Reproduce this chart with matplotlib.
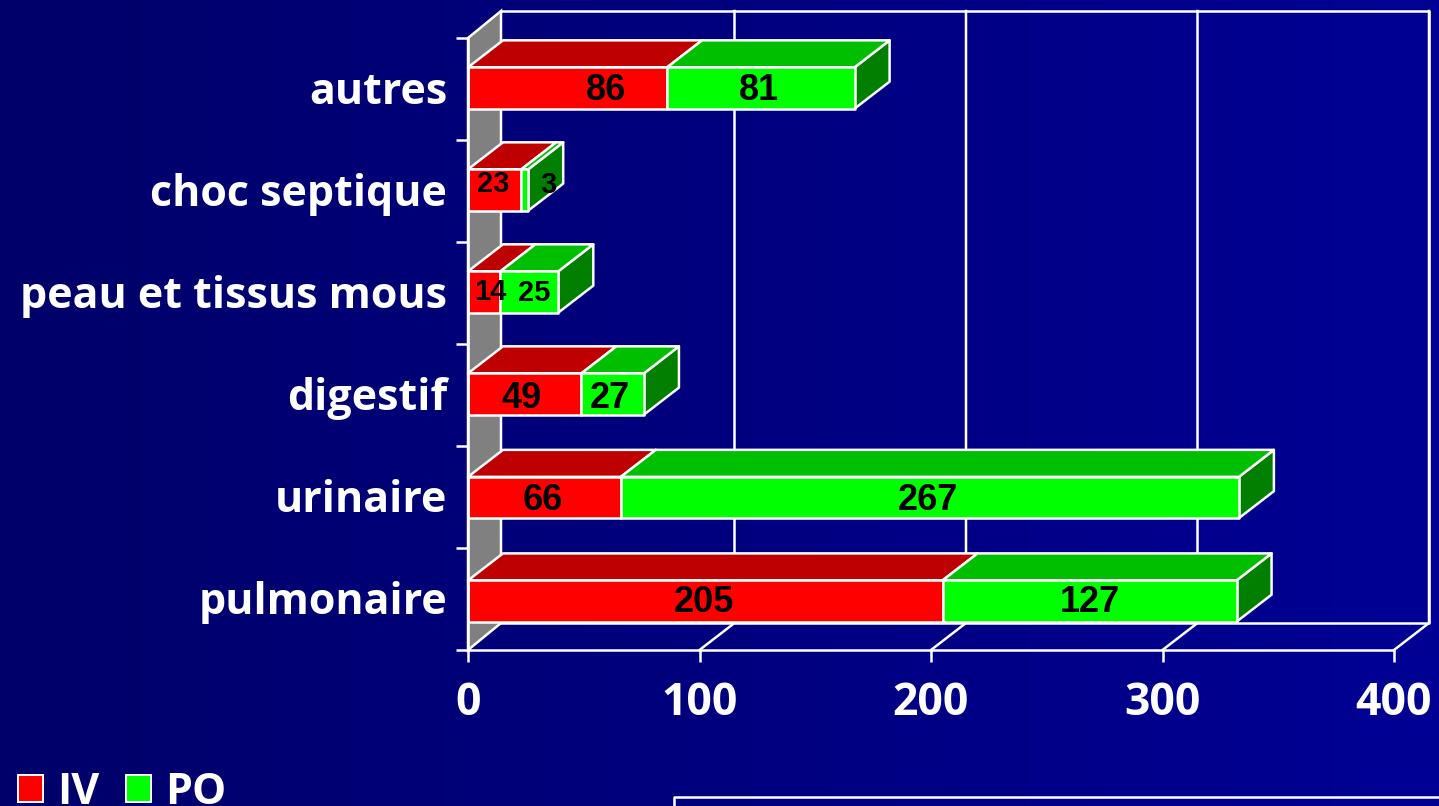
import numpy as np
from matplotlib import pyplot as plt
from matplotlib.colors import LinearSegmentedColormap
from matplotlib.patches import Polygon, Patch
from matplotlib.transforms import ScaledTranslation

categories = ['pulmonaire', 'urinaire', 'digestif', 'peau et tissus mous', 'choc septique', 'autres']
iv_values = [205, 66, 49, 14, 23, 86]
po_values = [127, 267, 27, 25, 3, 81]
x_ticks = [0, 100, 200, 300, 400]

W, H = 1439, 806
RED, RED_TOP = '#ff0000', '#bf0000'
GREEN, GREEN_TOP, GREEN_SIDE = '#00ff00', '#00bf00', '#007f00'
LABEL_FONT = 'Open Sans'
VALUE_FONT = 'Liberation Sans'
LW = 1.8

# depth of the fake 3d effect, in data units
DX = 35 / (926 / 400)
WALL_DX = 33 / (926 / 400)
DY = 27 / 102
BAR_H = 0.405
# bars are not spaced quite evenly in the slide
BAR_Y = [0.48, 1.495, 2.51, 3.51, 4.51, 5.51]


def box(ax, start, value, y, front, top, side):
    """draw one 3d bar segment"""
    end = start + value
    lo, hi = y - BAR_H / 2, y + BAR_H / 2
    kw = dict(edgecolor='white', linewidth=LW, clip_on=False, joinstyle='round', zorder=3)
    ax.add_patch(Polygon([(end, lo), (end + DX, lo + DY), (end + DX, hi + DY), (end, hi)], facecolor=side, **kw))
    ax.add_patch(Polygon([(start, hi), (start + DX, hi + DY), (end + DX, hi + DY), (end, hi)], facecolor=top, **kw))
    ax.add_patch(Polygon([(start, lo), (end, lo), (end, hi), (start, hi)], facecolor=front, **kw))


def main():
    """main function"""
    fig = plt.figure(figsize=(W / 100, H / 100), dpi=100)

    # background gradient
    bg = fig.add_axes([0, 0, 1, 1], zorder=0)
    cmap = LinearSegmentedColormap.from_list('bg', ['#00006a', '#000094'])
    bg.imshow(np.linspace(0, 1, 256).reshape(1, -1), aspect='auto', cmap=cmap)
    bg.axis('off')
    fig.add_artist(plt.Line2D([674 / W, 674 / W, 1], [0, 9 / H, 9 / H], color='white', lw=LW))

    ax = fig.add_axes([468 / W, 1 - 650 / H, 926 / W, 612 / H], zorder=1)
    ax.set_xlim(0, 400)
    ax.set_ylim(0, 6)
    ax.patch.set_alpha(0)

    # left wall, back wall and floor
    wall_kw = dict(color='white', linewidth=LW, clip_on=False, zorder=2)
    ax.add_patch(Polygon([(0, 0), (WALL_DX, DY), (WALL_DX, 6 + DY), (0, 6)], facecolor='#808080', edgecolor='white', linewidth=LW, clip_on=False, zorder=1))
    ax.plot([WALL_DX, 400 + DX, 400 + DX, WALL_DX], [6 + DY, 6 + DY, DY, DY], **wall_kw)
    for t in x_ticks[1:]:
        ax.plot([t, t + DX, t + DX], [0, DY, 6 + DY], **wall_kw)

    for i in range(len(categories)):
        box(ax, 0, iv_values[i], BAR_Y[i], RED, RED_TOP, RED_TOP)
        box(ax, iv_values[i], po_values[i], BAR_Y[i], GREEN, GREEN_TOP, GREEN_SIDE)

    # value labels, some are moved off centre like in the slide (pixels)
    nudges = {('iv', 5): (38, 2), ('po', 5): (-2, 2),
              ('iv', 4): (-1, 10), ('po', 4): (24, 9),
              ('iv', 3): (6, 4), ('po', 3): (5, 3),
              ('iv', 2): (-3, 1), ('po', 2): (-3, 1),
              ('iv', 1): (-2, 0), ('po', 1): (-2, 0),
              ('iv', 0): (-1, 1)}
    for i in range(len(categories)):
        for name, start, value in (('iv', 0, iv_values[i]), ('po', iv_values[i], po_values[i])):
            dx, dy = nudges.get((name, i), (0, 0))
            small = i in (3, 4)
            ax.annotate(str(value), (start + value / 2, i + 0.5), xytext=(dx * 0.72, dy * 0.72),
                        textcoords='offset points', ha='center', va='center_baseline',
                        fontfamily=VALUE_FONT, fontweight='bold', color='black',
                        fontsize=21 if small else 26, zorder=5, annotation_clip=False)

    # axes
    for side in ('top', 'right'):
        ax.spines[side].set_visible(False)
    for side in ('left', 'bottom'):
        ax.spines[side].set_color('white')
        ax.spines[side].set_linewidth(LW)
    ax.spines['left'].set_zorder(6)
    ax.set_xticks(x_ticks)
    ax.set_yticks(range(7))
    ax.set_yticklabels([])
    ax.set_yticks(np.arange(len(categories)) + 0.5, labels=categories, minor=True)
    ax.tick_params(axis='both', which='major', color='white', length=8.6, width=LW)
    ax.tick_params(axis='x', labelcolor='white', labelsize=32, pad=14)
    ax.tick_params(axis='y', which='minor', length=0, pad=15, labelcolor='white', labelsize=31)
    for lab in ax.get_xticklabels():
        lab.set_fontfamily(LABEL_FONT)
        lab.set_fontweight('bold')
    shift = ScaledTranslation(0, 2 / 100, fig.dpi_scale_trans)
    for lab in ax.get_yticklabels(minor=True):
        lab.set_fontfamily(LABEL_FONT)
        lab.set_fontweight('bold')
        lab.set_transform(lab.get_transform() + shift)

    handles = [Patch(facecolor=RED, edgecolor='white', linewidth=1.4), Patch(facecolor=GREEN, edgecolor='white', linewidth=1.4)]
    fig.legend(handles, ['IV', 'PO'], loc='lower left', bbox_to_anchor=(18 / W, -8 / H), ncols=2, frameon=False,
               prop={'family': LABEL_FONT, 'weight': 'bold', 'size': 31}, labelcolor='white',
               handlelength=0.58, handleheight=0.58, handletextpad=0.33, columnspacing=0.62, borderpad=0, borderaxespad=0)

    plt.savefig('out.png', dpi=100)


if __name__ == '__main__':
    main()
